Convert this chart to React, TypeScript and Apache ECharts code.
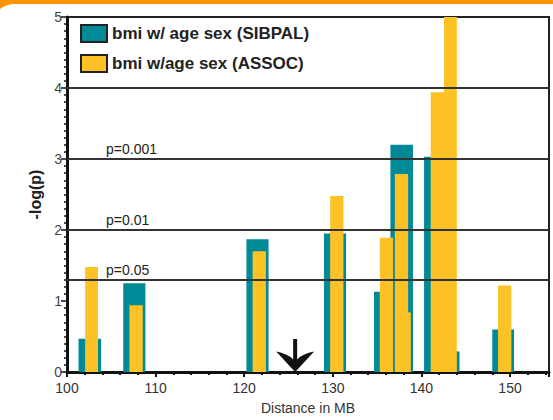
import React, { useEffect, useRef } from "react";
import * as echarts from "echarts";

// SIBPAL bars: start (MB), end (MB), -log(p)
const sibpalStart = [101.3, 106.35, 120.25, 129.0, 134.65, 136.5, 140.3, 141.5, 148.0];
const sibpalEnd = [103.85, 108.85, 122.75, 131.5, 136.0, 139.05, 142.6, 144.3, 150.45];
const sibpalValue = [0.47, 1.25, 1.87, 1.95, 1.13, 3.2, 3.03, 0.29, 0.6];

// ASSOC bars
const assocStart = [102.05, 107.05, 120.95, 129.7, 135.3, 137.3, 137.0, 141.05, 142.55, 148.65];
const assocEnd = [103.5, 108.55, 122.45, 131.2, 136.8, 138.8, 138.5, 142.55, 144.0, 150.15];
const assocValue = [1.48, 0.94, 1.7, 2.48, 1.89, 0.84, 2.79, 3.94, 5.0, 1.22];

const thresholdValues = [1.3, 2, 3, 4];
const thresholdLabels = ["p=0.05", "p=0.01", "p=0.001", ""];

const xTicks = [100, 110, 120, 130, 140, 150];
const arrowPosition = 125.75;

const seriesNames = ["bmi w/ age sex (SIBPAL)", "bmi w/age sex (ASSOC)"];
const TEAL = "#008a97";
const YELLOW = "#fdc226";
const FONT = "Liberation Sans, Arial, sans-serif";

function rows(s: number[], e: number[], v: number[]) {
  return s.map((x, i) => [x, e[i], v[i]]);
}

function makeRender(color: string) {
  return (params: any, api: any) => {
    const p0 = api.coord([api.value(0), 0]);
    const p1 = api.coord([api.value(1), api.value(2)]);
    return {
      type: "rect",
      shape: { x: p0[0], y: p1[1], width: p1[0] - p0[0], height: p0[1] - p1[1] },
      style: { fill: color },
    };
  };
}

export default function App() {
  const ref = useRef<HTMLDivElement>(null);
  useEffect(() => {
    if (!ref.current) return;
    const chart = echarts.init(ref.current, null, { renderer: "svg" });
    chart.setOption({
      animation: false,
      backgroundColor: "#ffffff",
      graphic: [
        { type: "rect", z: -20, silent: true, shape: { x: 0, y: 0, width: 553, height: 30 }, style: { fill: "#ff9409" } },
        { type: "rect", z: -19, silent: true, shape: { x: -8, y: 4, width: 600, height: 460, r: 22 }, style: { fill: "#ffffff" } },
      ],
      legend: {
        orient: "vertical",
        left: 80,
        top: 24,
        padding: 0,
        itemWidth: 26,
        itemHeight: 17,
        itemGap: 11,
        textStyle: { fontFamily: FONT, fontSize: 17, fontWeight: "bold", color: "#222" },
        data: [
          { name: seriesNames[0], icon: "rect", itemStyle: { color: TEAL, borderColor: "#222", borderWidth: 2 } },
          { name: seriesNames[1], icon: "rect", itemStyle: { color: YELLOW, borderColor: "#222", borderWidth: 2 } },
        ],
      },
      grid: {
        left: 67,
        right: 4,
        top: 17,
        bottom: 42,
        show: true,
        borderColor: "#222",
        borderWidth: 2,
        backgroundColor: "transparent",
      },
      xAxis: {
        type: "value",
        min: 100,
        max: 154.4,
        interval: 10,
        name: "Distance in MB",
        nameLocation: "middle",
        nameGap: 29,
        nameTextStyle: { fontFamily: FONT, fontSize: 14, color: "#333" },
        axisLine: { lineStyle: { color: "#111", width: 3 } },
        axisTick: { show: true, length: 5, lineStyle: { color: "#111", width: 2 } },
        minorTick: { show: true, splitNumber: 5, length: 3, lineStyle: { color: "#111", width: 2 } },
        splitLine: { show: false },
        axisLabel: {
          fontFamily: FONT,
          fontSize: 14,
          color: "#333",
          margin: 9,
          formatter: (v: number) => (xTicks.indexOf(v) >= 0 ? String(v) : ""),
        },
      },
      yAxis: {
        type: "value",
        min: 0,
        max: 5,
        interval: 1,
        name: "-log(p)",
        nameLocation: "middle",
        nameGap: 24,
        nameRotate: 90,
        nameTextStyle: { fontFamily: FONT, fontSize: 16, fontWeight: "bold", color: "#222" },
        axisLine: { show: true, lineStyle: { color: "#111", width: 3 } },
        axisTick: { show: true, length: 6, lineStyle: { color: "#111", width: 1.5 } },
        minorTick: { show: true, splitNumber: 10, length: 3, lineStyle: { color: "#111", width: 1.5 } },
        splitLine: { show: false },
        axisLabel: { fontFamily: FONT, fontSize: 14, color: "#444", margin: 5 },
      },
      series: [
        {
          type: "line",
          data: [],
          z: 1,
          silent: true,
          markLine: {
            silent: true,
            symbol: "none",
            lineStyle: { color: "#333", width: 2, type: "solid" },
            label: {
              show: true,
              position: "insideStartTop",
              distance: [39, 3],
              fontFamily: FONT,
              fontSize: 14,
              color: "#222",
              formatter: (p: any) => p.name,
            },
            data: thresholdValues.map((v, i) => ({ yAxis: v, name: thresholdLabels[i] })),
          },
          markPoint: {
            silent: true,
            symbol: "path://M16 0 H20 V21 Q26 15 37 13 L18 34 L-1 13 Q10 15 16 21 Z",
            symbolSize: [38, 33],
            symbolOffset: [0, "-50%"],
            itemStyle: { color: "#111" },
            label: { show: false },
            data: [{ coord: [arrowPosition, 0] }],
          },
        },
        {
          name: seriesNames[0],
          type: "custom",
          z: 3,
          itemStyle: { color: TEAL },
          renderItem: makeRender(TEAL),
          encode: { x: [0, 1], y: 2 },
          data: rows(sibpalStart, sibpalEnd, sibpalValue),
        },
        {
          name: seriesNames[1],
          type: "custom",
          z: 4,
          itemStyle: { color: YELLOW },
          renderItem: makeRender(YELLOW),
          encode: { x: [0, 1], y: 2 },
          data: rows(assocStart, assocEnd, assocValue),
        },
      ],
    });
    return () => chart.dispose();
  }, []);
  return (
    <div
      ref={ref}
      style={{ position: "fixed", left: 0, top: 0, width: 553, height: 420 }}
    />
  );
}
